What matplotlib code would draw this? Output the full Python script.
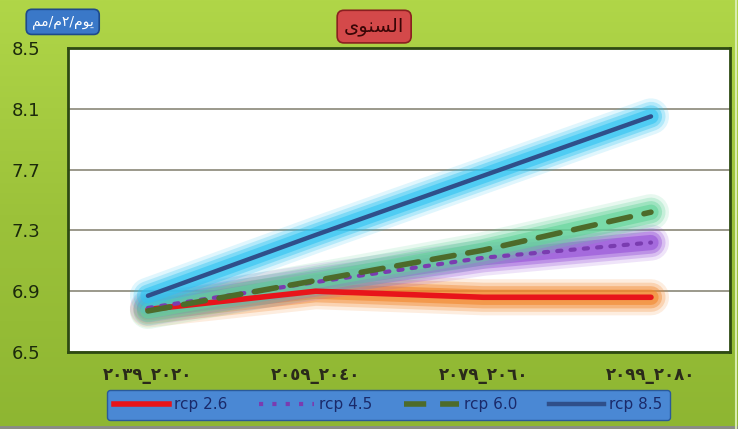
import numpy as np
import matplotlib
matplotlib.use("Agg")
import matplotlib.pyplot as plt
from matplotlib.lines import Line2D
from matplotlib.colors import LinearSegmentedColormap

plt.rcParams['font.family'] = ['DejaVu Sans']

periods = ["٢٠٣٩_٢٠٢٠", "٢٠٥٩_٢٠٤٠", "٢٠٧٩_٢٠٦٠", "٢٠٩٩_٢٠٨٠"]
rcp26 = [6.78, 6.90, 6.86, 6.86]
rcp45 = [6.79, 6.96, 7.12, 7.22]
rcp60 = [6.77, 6.97, 7.17, 7.42]
rcp85 = [6.87, 7.27, 7.66, 8.05]
y_ticks = [6.5, 6.9, 7.3, 7.7, 8.1, 8.5]

# title and unit label, pre-shaped Arabic in visual order
title_text = "\uFEEF\uFEEE\uFEE8\uFEB4\uFEDF\uFE8D"
unit_text = "\uFEE2\uFEE3/\uFEE1٢/\uFEE1\uFEEE\uFEF3"

series = [
    ("rcp 2.6", rcp26, dict(color="#e8141a", lw=4.0, ls="-"), "#f2872c"),
    ("rcp 4.5", rcp45, dict(color="#7a3cb0", lw=3.0, ls=(0, (1, 2.2))), "#9650d8"),
    ("rcp 6.0", rcp60, dict(color="#4d6b2a", lw=4.0, ls=(0, (4, 2.5))), "#62d49a"),
    ("rcp 8.5", rcp85, dict(color="#2f4f8a", lw=3.2, ls="-"), "#30c4f2"),
]

fig = plt.figure(figsize=(7.38, 4.29), dpi=100)

# green gradient background
bg = fig.add_axes([0, 0, 1, 1], zorder=-10)
grad = np.linspace(0, 1, 256).reshape(-1, 1)
cmap = LinearSegmentedColormap.from_list("g", ["#b0d648", "#9cc23a", "#8eb632"])
bg.imshow(grad, aspect="auto", cmap=cmap, extent=[0, 1, 0, 1], origin="upper")
bg.plot([0, 1], [0.004, 0.004], color="#8a8a8a", lw=2)
bg.plot([0.997, 0.997], [0, 1], color="#d8ecb0", lw=1.5)
bg.set_xlim(0, 1)
bg.set_ylim(0, 1)
bg.axis("off")

ax = fig.add_axes([0.0921, 0.1795, 0.897, 0.7086])
ax.set_facecolor("white")
x = np.arange(len(periods))

for label, vals, style, glow in series:
    for w, a in [(26, 0.15), (21, 0.25), (16, 0.4), (11, 0.6)]:
        ax.plot(x, vals, color=glow, lw=w, alpha=a, solid_capstyle="round",
                solid_joinstyle="round", zorder=2)
for label, vals, style, glow in series:
    ax.plot(x, vals, color=style["color"], lw=style["lw"], linestyle=style["ls"],
            dash_capstyle="round", solid_capstyle="round", zorder=3, label=label)

ax.set_xlim(-0.477, 3.471)
ax.set_ylim(6.5, 8.5)
ax.set_yticks(y_ticks)
ax.set_yticklabels([f"{v:.1f}" for v in y_ticks], fontsize=13, color="#1c2a0c")
ax.set_xticks(x)
ax.set_xticklabels(periods, fontsize=12, fontweight="bold", color="#2a2a1a")
ax.tick_params(axis="y", length=0, pad=20)
ax.tick_params(axis="x", length=0, pad=10)
ax.grid(axis="y", color="#8a8878", lw=1.2, zorder=1)
for s in ax.spines.values():
    s.set_color("#2e4a12")
    s.set_linewidth(2)

# title box
fig.text(0.507, 0.938, title_text, ha="center", va="center", fontsize=14,
         color="#3a0606",
         bbox=dict(boxstyle="round,pad=0.35", fc="#d4494a", ec="#8a2020", lw=1.2))
# unit box
fig.text(0.085, 0.949, unit_text, ha="center", va="center", fontsize=10,
         color="white",
         bbox=dict(boxstyle="round,pad=0.4", fc="#3a78c8", ec="#1e4a8a", lw=1.2))

# legend
handles = [Line2D([0], [0], color=st["color"], lw=st["lw"], linestyle=st["ls"])
           for _, _, st, _ in series]
labels = [s[0] for s in series]
leg = fig.legend(handles, labels, loc="center", bbox_to_anchor=(0.526, 0.056),
                 ncol=4, handlelength=3.6, handletextpad=0.3, columnspacing=2.1,
                 fontsize=11, frameon=True, fancybox=True, facecolor="#4a88d4",
                 edgecolor="#2a5a9a", framealpha=1.0, borderpad=0.5)
for t in leg.get_texts():
    t.set_color("#1a2a6a")

fig.savefig("out.png", dpi=100)
